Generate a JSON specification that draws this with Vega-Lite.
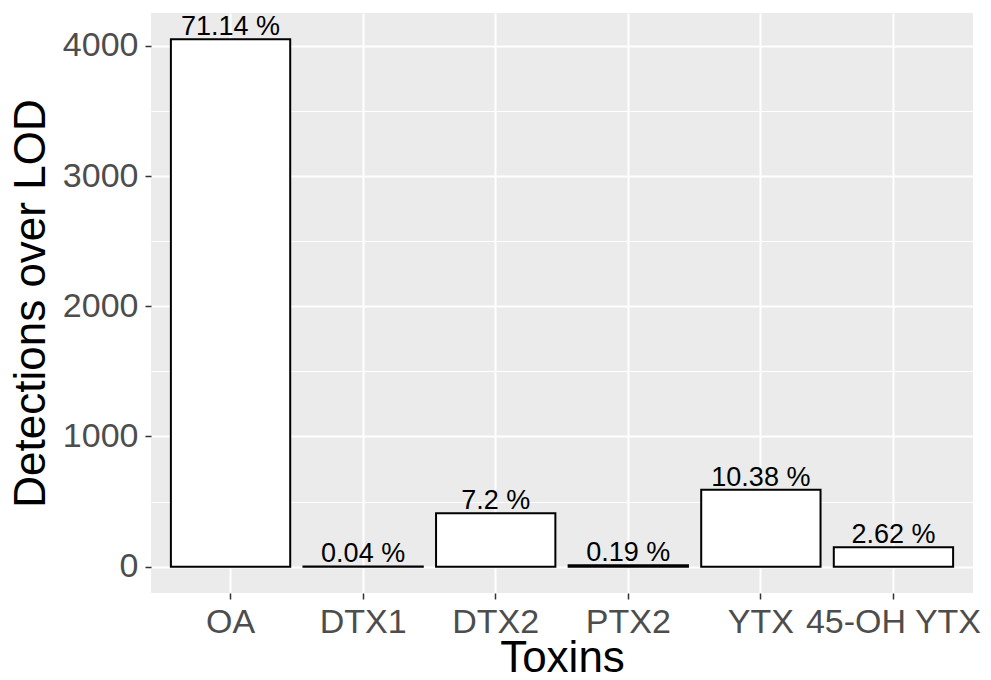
{
  "$schema": "https://vega.github.io/schema/vega-lite/v6.json",
  "width": 822,
  "height": 580,
  "autosize": {"type": "none"},
  "padding": {"left": 151, "top": 13, "right": 18, "bottom": 87},
  "background": "white",
  "config": {
    "view": {"fill": "#EBEBEB", "stroke": null},
    "font": "Liberation Sans"
  },
  "data": {
    "values": [
      {"toxin": "OA", "count": 4050, "pct": "71.14 %"},
      {"toxin": "DTX1", "count": 2, "pct": "0.04 %"},
      {"toxin": "DTX2", "count": 410, "pct": "7.2 %"},
      {"toxin": "PTX2", "count": 11, "pct": "0.19 %"},
      {"toxin": "YTX", "count": 591, "pct": "10.38 %"},
      {"toxin": "45-OH YTX", "count": 149, "pct": "2.62 %"}
    ]
  },
  "encoding": {
    "x": {
      "field": "toxin",
      "type": "nominal",
      "sort": null,
      "scale": {"paddingInner": 0.1, "paddingOuter": 0.15},
      "axis": {
        "title": "Toxins",
        "titleFontSize": 44,
        "titleFontWeight": "normal",
        "titleColor": "black",
        "titlePadding": -3,
        "labelFontSize": 34,
        "labelColor": "#4D4D4D",
        "labelAngle": 0,
        "labelPadding": 6,
        "labelOverlap": false,
        "labelLimit": 400,
        "bandPosition": 0.5,
        "tickSize": 6,
        "tickWidth": 1.5,
        "tickColor": "#333333",
        "domain": false,
        "grid": true,
        "gridColor": "white",
        "gridWidth": 2
      }
    }
  },
  "layer": [
    {
      "mark": {"type": "bar", "fill": "white", "stroke": "black", "strokeWidth": 2},
      "encoding": {
        "y": {
          "field": "count",
          "type": "quantitative",
          "scale": {"domain": [-202.5, 4252.5], "nice": false, "zero": false},
          "axis": {
            "values": [0, 1000, 2000, 3000, 4000],
            "format": "d",
            "title": "Detections over LOD",
            "titleFontSize": 44,
            "titleFontWeight": "normal",
            "titleColor": "black",
            "titlePadding": 9,
            "labelFontSize": 34,
            "labelColor": "#4D4D4D",
            "labelPadding": 7,
            "tickSize": 6,
            "tickWidth": 1.5,
            "tickColor": "#333333",
            "domain": false,
            "grid": true,
            "gridColor": "white",
            "gridWidth": 2
          }
        },
        "y2": {"datum": 0}
      }
    },
    {
      "mark": {"type": "text", "baseline": "alphabetic", "dy": -4, "fontSize": 27, "color": "black"},
      "encoding": {
        "y": {
          "field": "count",
          "type": "quantitative",
          "axis": {
            "orient": "right",
            "values": [500, 1500, 2500, 3500],
            "title": null,
            "labels": false,
            "ticks": false,
            "domain": false,
            "grid": true,
            "gridColor": "white",
            "gridWidth": 1
          }
        },
        "text": {"field": "pct"}
      }
    }
  ],
  "resolve": {"axis": {"y": "independent"}}
}
